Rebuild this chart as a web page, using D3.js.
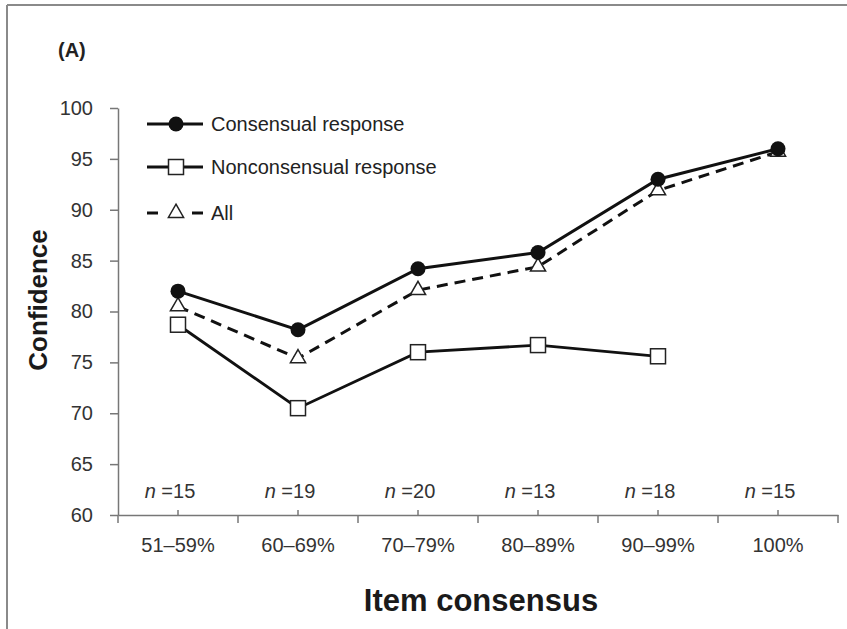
<!DOCTYPE html>
<html>
<head>
<meta charset="utf-8">
<script src="https://cdn.jsdelivr.net/npm/d3@7"></script>
<style>
  body { margin: 0; background: #fff; }
  svg { display: block; font-family: 'Liberation Sans', Arial, sans-serif; }
</style>
</head>
<body>
<div id="chart"></div>
<script>
// Data
const categories = ['51–59%', '60–69%', '70–79%', '80–89%', '90–99%', '100%'];
const nCounts = [15, 19, 20, 13, 18, 15];
const consensual = [82.0, 78.2, 84.2, 85.8, 93.0, 96.0];
const nonconsensual = [78.7, 70.5, 76.0, 76.7, 75.6, null];
const allResp = [80.5, 75.4, 82.1, 84.4, 91.9, 95.7];
const yTicks = [60, 65, 70, 75, 80, 85, 90, 95, 100];

const W = 847, H = 629;
const plot = { left: 118, right: 838, top: 108, bottom: 515 };

const svg = d3.select('#chart').append('svg')
  .attr('width', W).attr('height', H);

// Frame (top and left edges only)
svg.append('line').attr('x1', 7).attr('x2', W).attr('y1', 5).attr('y2', 5)
  .attr('stroke', '#8a8a8a').attr('stroke-width', 2);
svg.append('line').attr('x1', 7).attr('x2', 7).attr('y1', 5).attr('y2', H)
  .attr('stroke', '#8a8a8a').attr('stroke-width', 2);

const x = d3.scaleBand().domain(categories).range([plot.left, plot.right]);
const y = d3.scaleLinear().domain([60, 100]).range([plot.bottom, plot.top]);
const cx = c => x(c) + x.bandwidth() / 2;

// Y axis
svg.append('g')
  .attr('transform', `translate(${plot.left},0)`)
  .call(d3.axisLeft(y).tickValues(yTicks).tickSize(8).tickPadding(17).tickSizeOuter(0))
  .call(g => g.select('.domain').attr('stroke', '#777').attr('stroke-width', 1.5))
  .call(g => g.selectAll('.tick line').attr('stroke', '#777').attr('stroke-width', 1.5))
  .call(g => g.selectAll('.tick text').attr('fill', '#333')
    .style('font-size', '20px').style('font-family', "'Liberation Sans', Arial, sans-serif"));

// X axis: centre ticks point up, labels below
svg.append('g')
  .attr('transform', `translate(0,${plot.bottom})`)
  .call(d3.axisBottom(x).tickSize(-5).tickPadding(23).tickSizeOuter(0))
  .call(g => g.select('.domain').attr('stroke', '#777').attr('stroke-width', 1.5))
  .call(g => g.selectAll('.tick line').attr('stroke', '#777').attr('stroke-width', 1.5))
  .call(g => g.selectAll('.tick text').attr('fill', '#333')
    .style('font-size', '20px').style('font-family', "'Liberation Sans', Arial, sans-serif"));

// Category boundary ticks (downward)
const edges = categories.map(c => x(c)).concat([x(categories[categories.length - 1]) + x.bandwidth()]);
svg.append('g').selectAll('line').data(edges).enter().append('line')
  .attr('x1', d => d).attr('x2', d => d)
  .attr('y1', plot.bottom).attr('y2', plot.bottom + 8)
  .attr('stroke', '#777').attr('stroke-width', 1.5);

// n labels
const nText = svg.append('g').selectAll('text').data(categories).enter().append('text')
  .attr('x', d => cx(d) - 8).attr('y', 498)
  .attr('text-anchor', 'middle')
  .attr('fill', '#333').style('font-size', '20px');
nText.append('tspan').style('font-style', 'italic').text('n');
nText.append('tspan').text((d, i) => ' =' + nCounts[i]);

// Lines
const lineGen = d3.line()
  .defined(d => d.v != null)
  .x(d => cx(d.c)).y(d => y(d.v));
const toPts = arr => categories.map((c, i) => ({ c, v: arr[i] }));

// All (dashed, triangles)
svg.append('path').datum(toPts(allResp))
  .attr('d', lineGen).attr('fill', 'none')
  .attr('stroke', '#111').attr('stroke-width', 3).attr('stroke-dasharray', '11,7');

// Nonconsensual
svg.append('path').datum(toPts(nonconsensual))
  .attr('d', lineGen).attr('fill', 'none')
  .attr('stroke', '#111').attr('stroke-width', 2.8);

// Consensual
svg.append('path').datum(toPts(consensual))
  .attr('d', lineGen).attr('fill', 'none')
  .attr('stroke', '#111').attr('stroke-width', 3);

const triPath = d3.symbol().type(d3.symbolTriangle).size(100);
const sqSide = 15;

svg.append('g').selectAll('path').data(toPts(allResp)).enter().append('path')
  .attr('d', triPath)
  .attr('transform', d => `translate(${cx(d.c)},${y(d.v)})`)
  .attr('fill', '#fff').attr('stroke', '#222').attr('stroke-width', 1.5);

svg.append('g').selectAll('rect').data(toPts(nonconsensual).filter(d => d.v != null)).enter().append('rect')
  .attr('x', d => cx(d.c) - sqSide / 2).attr('y', d => y(d.v) - sqSide / 2)
  .attr('width', sqSide).attr('height', sqSide)
  .attr('fill', '#fff').attr('stroke', '#222').attr('stroke-width', 1.5);

svg.append('g').selectAll('circle').data(toPts(consensual)).enter().append('circle')
  .attr('cx', d => cx(d.c)).attr('cy', d => y(d.v)).attr('r', 7.5)
  .attr('fill', '#111');

// Legend
const legend = svg.append('g');
const legItems = [
  { label: 'Consensual response', y: 124, kind: 'circle' },
  { label: 'Nonconsensual response', y: 167, kind: 'square' },
  { label: 'All', y: 213, kind: 'tri' }
];
legItems.forEach(it => {
  if (it.kind === 'tri') {
    legend.append('line').attr('x1', 147).attr('x2', 158).attr('y1', it.y).attr('y2', it.y)
      .attr('stroke', '#111').attr('stroke-width', 3);
    legend.append('line').attr('x1', 192).attr('x2', 203).attr('y1', it.y).attr('y2', it.y)
      .attr('stroke', '#111').attr('stroke-width', 3);
    legend.append('path').attr('d', triPath)
      .attr('transform', `translate(176,${it.y})`)
      .attr('fill', '#fff').attr('stroke', '#222').attr('stroke-width', 1.5);
  } else {
    legend.append('line').attr('x1', 147).attr('x2', 203).attr('y1', it.y).attr('y2', it.y)
      .attr('stroke', '#111').attr('stroke-width', 3);
    if (it.kind === 'circle') {
      legend.append('circle').attr('cx', 176).attr('cy', it.y).attr('r', 7.5).attr('fill', '#111');
    } else {
      legend.append('rect').attr('x', 176 - sqSide / 2).attr('y', it.y - sqSide / 2)
        .attr('width', sqSide).attr('height', sqSide)
        .attr('fill', '#fff').attr('stroke', '#222').attr('stroke-width', 1.5);
    }
  }
  legend.append('text').attr('x', 211).attr('y', it.y + 7)
    .attr('fill', '#222').style('font-size', '20px').text(it.label);
});

// Panel label and axis titles
svg.append('text').attr('x', 58).attr('y', 57)
  .style('font-size', '20px').style('font-weight', 'bold').attr('fill', '#222').text('(A)');

svg.append('text')
  .attr('transform', 'rotate(-90)')
  .attr('x', -300).attr('y', 47)
  .attr('text-anchor', 'middle')
  .style('font-size', '26px').style('font-weight', 'bold').attr('fill', '#1a1a1a')
  .text('Confidence');

svg.append('text')
  .attr('x', 481).attr('y', 611)
  .attr('text-anchor', 'middle')
  .style('font-size', '31px').style('font-weight', 'bold').attr('fill', '#1a1a1a')
  .text('Item consensus');
</script>
</body>
</html>
